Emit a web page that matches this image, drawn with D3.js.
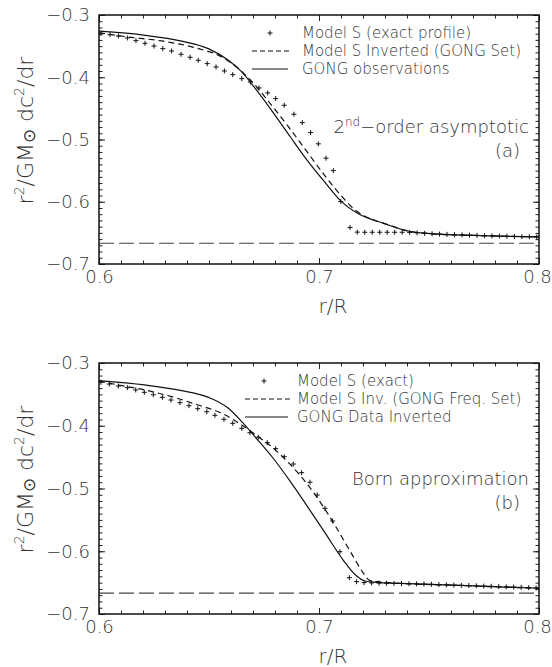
<!DOCTYPE html>
<html>
<head>
<meta charset="utf-8">
<script src="https://cdn.jsdelivr.net/npm/d3@7"></script>
<style>
  body { margin: 0; background: #fff; }
  svg text { font-family: "DejaVu Sans", sans-serif; font-weight: 200; fill: #333; }
</style>
</head>
<body>
<svg id="chart" width="552" height="667"></svg>
<script>
// axis ranges / ticks
var xDomain = [0.6, 0.8];
var yDomain = [-0.7, -0.3];
var xMajor = [0.6, 0.7, 0.8];
var yMajor = [-0.3, -0.4, -0.5, -0.6, -0.7];
var refLevel = -0.6667;

// panel (a): 2nd-order asymptotic
var aExact = [[0.6009,-0.330],[0.6050,-0.3316],[0.6088,-0.3337],[0.6129,-0.3369],[0.6168,-0.3412],
  [0.6209,-0.3455],[0.6250,-0.3498],[0.6290,-0.3540],[0.6330,-0.3578],[0.6373,-0.3631],
  [0.6414,-0.3679],[0.6451,-0.3728],[0.6492,-0.3781],[0.6532,-0.3835],[0.6570,-0.3899],
  [0.6608,-0.3958],[0.6649,-0.4022],[0.6688,-0.4075],[0.6727,-0.4172],[0.6767,-0.4252],
  [0.6803,-0.4343],[0.6842,-0.4450],[0.6886,-0.4594],[0.6924,-0.4729],[0.6962,-0.4889],
  [0.6997,-0.5070],[0.7032,-0.5300],[0.7065,-0.5500],[0.7099,-0.5997],[0.7141,-0.6414],
  [0.7174,-0.6488],[0.7208,-0.6490],[0.7242,-0.6490],[0.7276,-0.6490],[0.7310,-0.6490],
  [0.7344,-0.6490],[0.7378,-0.6490],[0.7412,-0.6492],[0.7446,-0.6500],[0.7480,-0.6508],
  [0.7514,-0.6514],[0.7548,-0.6520],[0.7582,-0.6524],[0.7616,-0.6528],[0.7650,-0.6532],
  [0.7684,-0.6536],[0.7718,-0.6540],[0.7752,-0.6544],[0.7786,-0.6548],[0.7820,-0.6551],
  [0.7854,-0.6554],[0.7888,-0.6557],[0.7922,-0.6560],[0.7956,-0.6563],[0.7990,-0.6566]];
var aInverted = [[0.600,-0.3285],[0.6133,-0.3353],[0.6285,-0.3417],[0.6436,-0.3525],[0.6558,-0.3674],
  [0.6633,-0.3860],[0.6700,-0.4090],[0.6780,-0.4430],[0.6860,-0.4790],[0.6940,-0.5170],
  [0.7020,-0.5550],[0.7100,-0.5900],[0.7160,-0.6120],[0.7230,-0.6270],[0.7292,-0.6344],
  [0.7414,-0.6478],[0.7520,-0.6515],[0.7700,-0.6540],[0.8000,-0.6565]];
var aObserved = [[0.600,-0.3260],[0.6210,-0.3326],[0.6376,-0.3420],[0.6497,-0.3540],[0.6588,-0.3728],
  [0.6649,-0.3915],[0.6710,-0.4180],[0.6790,-0.4560],[0.6870,-0.4960],[0.6950,-0.5350],
  [0.7030,-0.5700],[0.7100,-0.5990],[0.7179,-0.6194],[0.7292,-0.6344],[0.7414,-0.6478],
  [0.7520,-0.6515],[0.7700,-0.6540],[0.8000,-0.6565]];

// panel (b): Born approximation
var bExact = [[0.6009,-0.3308],[0.6047,-0.3335],[0.6088,-0.3367],[0.6129,-0.3393],[0.6167,-0.3430],
  [0.6206,-0.3467],[0.6247,-0.3505],[0.6288,-0.3547],[0.6327,-0.3590],[0.6368,-0.3632],
  [0.6409,-0.3680],[0.6449,-0.3728],[0.6490,-0.3776],[0.6527,-0.3834],[0.6568,-0.3897],
  [0.6608,-0.3961],[0.6649,-0.4041],[0.6686,-0.4111],[0.6724,-0.4184],[0.6765,-0.4270],
  [0.6803,-0.4366],[0.6842,-0.4493],[0.6883,-0.4610],[0.6921,-0.4748],[0.6959,-0.4900],
  [0.6992,-0.5104],[0.7027,-0.5316],[0.7062,-0.5518],[0.7095,-0.6007],[0.7138,-0.6421],
  [0.7171,-0.6485],[0.7205,-0.6500],[0.7239,-0.6505],[0.7273,-0.6508],[0.7307,-0.6510],
  [0.7341,-0.6512],[0.7375,-0.6514],[0.7409,-0.6517],[0.7443,-0.6520],[0.7477,-0.6523],
  [0.7511,-0.6527],[0.7545,-0.6531],[0.7579,-0.6535],[0.7613,-0.6539],[0.7647,-0.6543],
  [0.7681,-0.6547],[0.7715,-0.6551],[0.7749,-0.6555],[0.7783,-0.6559],[0.7817,-0.6563],
  [0.7851,-0.6567],[0.7885,-0.6571],[0.7919,-0.6575],[0.7953,-0.6580],[0.7987,-0.6585]];
var bInverted = [[0.600,-0.3290],[0.6088,-0.3350],[0.6209,-0.3430],[0.6330,-0.3537],[0.6451,-0.3670],
  [0.6558,-0.3802],[0.6649,-0.3988],[0.6724,-0.4174],[0.6800,-0.4380],[0.6870,-0.4620],
  [0.6940,-0.4900],[0.7010,-0.5240],[0.7080,-0.5630],[0.7150,-0.6050],[0.7200,-0.6340],
  [0.7230,-0.6465],[0.7280,-0.6490],[0.7368,-0.6511],[0.7671,-0.6549],[0.8000,-0.6590]];
var bObserved = [[0.600,-0.3280],[0.6209,-0.3350],[0.6376,-0.3441],[0.6497,-0.3547],[0.6588,-0.3722],
  [0.6649,-0.3935],[0.6710,-0.4180],[0.6790,-0.4510],[0.6870,-0.4890],[0.6950,-0.5300],
  [0.7030,-0.5720],[0.7110,-0.6140],[0.7170,-0.6390],[0.7209,-0.6474],[0.7260,-0.6495],
  [0.7368,-0.6511],[0.7671,-0.6549],[0.8000,-0.6590]];

var legendA = ["Model S (exact profile)", "Model S Inverted (GONG Set)", "GONG observations"];
var legendB = ["Model S (exact)", "Model S Inv. (GONG Freq. Set)", "GONG Data Inverted"];

var svg = d3.select("#chart");
var W = 440;

function drawPanel(top, H, exact, inverted, observed, legend, lx, note, tag) {
  var x = d3.scaleLinear().domain(xDomain).range([0, W]);
  var y = d3.scaleLinear().domain(yDomain).range([H, 0]);
  var minorX = d3.range(0.6, 0.8001, 0.01);
  var minorY = d3.range(-0.7, -0.2999, 0.01);

  var g = svg.append("g").attr("transform", "translate(99," + top + ")");

  // reference level
  g.append("line")
    .attr("x1", 0).attr("x2", W)
    .attr("y1", y(refLevel)).attr("y2", y(refLevel))
    .attr("stroke", "#444").attr("stroke-width", 1.1)
    .attr("stroke-dasharray", "15,5");

  var line = d3.line()
    .x(function(d) { return x(d[0]); })
    .y(function(d) { return y(d[1]); })
    .curve(d3.curveMonotoneX);

  g.append("path").attr("d", line(observed))
    .attr("fill", "none").attr("stroke", "#111").attr("stroke-width", 1.2);
  g.append("path").attr("d", line(inverted))
    .attr("fill", "none").attr("stroke", "#111").attr("stroke-width", 1.2)
    .attr("stroke-dasharray", "6,4");

  g.selectAll(".pt").data(exact).enter().append("path")
    .attr("d", function(d) {
      var px = x(d[0]), py = y(d[1]);
      return "M" + (px - 2.5) + "," + py + "H" + (px + 2.5) + "M" + px + "," + (py - 2.5) + "V" + (py + 2.5);
    })
    .attr("stroke", "#111").attr("stroke-width", 1);

  // ticks on all four sides, pointing in
  function ticks(axis, tx, ty) {
    var a = g.append("g").attr("transform", "translate(" + tx + "," + ty + ")").call(axis);
    a.select(".domain").remove();
    a.selectAll("line").attr("stroke", "#222");
    return a;
  }
  ticks(d3.axisBottom(x).tickValues(minorX).tickSize(-3.5).tickFormat(""), 0, H);
  ticks(d3.axisTop(x).tickValues(minorX).tickSize(-3.5).tickFormat(""), 0, 0);
  ticks(d3.axisLeft(y).tickValues(minorY).tickSize(-3.5).tickFormat(""), 0, 0);
  ticks(d3.axisRight(y).tickValues(minorY).tickSize(-3.5).tickFormat(""), W, 0);
  ticks(d3.axisTop(x).tickValues(xMajor).tickSize(-6).tickFormat(""), 0, 0);
  ticks(d3.axisRight(y).tickValues(yMajor).tickSize(-6).tickFormat(""), W, 0);

  var xa = ticks(d3.axisBottom(x).tickValues(xMajor).tickSize(-6).tickPadding(6).tickFormat(d3.format(".1f")), 0, H);
  var ya = ticks(d3.axisLeft(y).tickValues(yMajor).tickSize(-6).tickPadding(9).tickFormat(d3.format(".1f")), 0, 0);
  xa.attr("font-size", null).attr("font-family", null);
  ya.attr("font-size", null).attr("font-family", null);
  xa.selectAll("text").attr("font-size", 18).attr("fill", "#333")
    .attr("dx", function(d) { return d === 0.8 ? -2 : 0; });
  ya.selectAll("text").attr("font-size", 18).attr("fill", "#333");

  g.append("rect").attr("width", W).attr("height", H)
    .attr("fill", "none").attr("stroke", "#111").attr("stroke-width", 1.5);

  // legend
  var rows = [18, 36, 54];
  var lg = g.append("g");
  lg.append("path")
    .attr("d", "M" + (lx.sym - 2.5) + "," + rows[0] + "h5M" + lx.sym + "," + (rows[0] - 2.5) + "v5")
    .attr("stroke", "#111").attr("stroke-width", 1);
  lg.append("line").attr("x1", lx.l0).attr("x2", 191).attr("y1", rows[1]).attr("y2", rows[1])
    .attr("stroke", "#111").attr("stroke-width", 1.2).attr("stroke-dasharray", "5,3");
  lg.append("line").attr("x1", lx.l0).attr("x2", 189).attr("y1", rows[2]).attr("y2", rows[2])
    .attr("stroke", "#111").attr("stroke-width", 1.2);
  lg.selectAll("text").data(legend).enter().append("text")
    .attr("x", lx.text).attr("y", function(d, i) { return rows[i] + 5; })
    .attr("font-size", 15)
    .text(function(d) { return d; });

  // annotation
  var t = g.append("text").attr("x", 430).attr("y", note.y).attr("font-size", 18).attr("text-anchor", "end");
  note.parts.forEach(function(p) {
    t.append("tspan").attr("font-size", p.sup ? 12 : 18).attr("dy", p.dy || 0).text(p.t);
  });
  g.append("text").attr("x", 421).attr("y", note.y + 24).attr("font-size", 18)
    .attr("text-anchor", "end").text(tag);

  // axis titles
  g.append("text").attr("x", 234).attr("y", H + 49).attr("font-size", 20)
    .attr("text-anchor", "middle").text("r/R");

  var yl = g.append("text")
    .attr("transform", "translate(-66," + (H / 2 - 9) + ") rotate(-90)")
    .attr("text-anchor", "middle").attr("font-size", 22);
  yl.append("tspan").text("r");
  yl.append("tspan").attr("font-size", 14).attr("dy", -9).text("2");
  yl.append("tspan").attr("dy", 9).text("/GM");
  yl.append("tspan").attr("font-size", 17).attr("dy", 2).text("\u2299");
  yl.append("tspan").attr("dy", -2).text(" dc");
  yl.append("tspan").attr("font-size", 14).attr("dy", -9).text("2");
  yl.append("tspan").attr("dy", 9).text("/dr");
}

drawPanel(15, 249, aExact, aInverted, aObserved, legendA,
  {sym: 171, l0: 153, text: 203},
  {y: 118, parts: [{t: "2"}, {t: "nd", sup: true, dy: -7}, {t: "\u2212order asymptotic", dy: 7}]}, "(a)");

drawPanel(363, 251, bExact, bInverted, bObserved, legendB,
  {sym: 165, l0: 146, text: 198},
  {y: 122, parts: [{t: "Born approximation"}]}, "(b)");
</script>
</body>
</html>
